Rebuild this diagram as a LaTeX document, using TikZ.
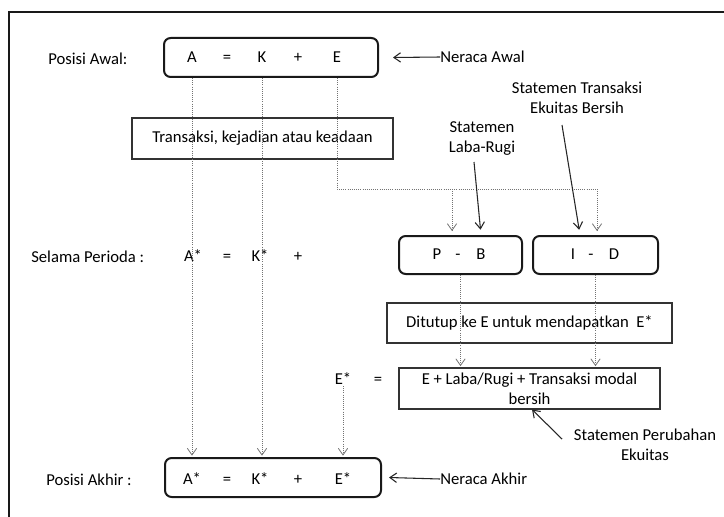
\documentclass[tikz,border=0pt]{standalone}
\usepackage{fontspec}
\setmainfont{Carlito}
\usetikzlibrary{arrows.meta,fit,calc}
\begin{document}
\begin{tikzpicture}[x=0.75pt,y=-0.75pt,
  every node/.style={font=\fontsize{12.5}{15}\selectfont, text=black, inner sep=0pt},
  tok/.style={text height=1.55ex, text depth=0.25ex},
  rbox/.style={draw=black!90, line width=1.5pt, rounded corners=5pt, inner sep=0pt},
  pbox/.style={draw=black!80, line width=0.8pt, inner sep=0pt},
  dotarr/.style={draw=black!55, densely dotted, line width=0.6pt, -{Straight Barb[length=5pt,width=7pt]}, shorten >=3pt},
  dotline/.style={draw=black!55, densely dotted, line width=0.6pt},
  solarr/.style={draw=black!85, line width=0.8pt, -{Straight Barb[length=5pt,width=7pt]}},
  lab/.style={align=center}
]
\useasboundingbox (0,0) rectangle (724,517);
\fill[white] (0,0) rectangle (724,517);
% frame
\coordinate (fr1) at (9,517);
\coordinate (fr2) at (9,12);
\coordinate (fr3) at (724,12);
\draw[line width=1.3pt, black!90] (fr1) -- (fr2) -- (fr3);

% top row
\node[anchor=west] (pawal) at (48,59) {Posisi Awal:};
\node[rbox, fit={(164,38)(378,77)}] (top) {};
\node[tok] (A) at (192,58) {A};
\node[tok] (eq1) at (227,58) {=};
\node[tok] (K) at (262,58) {K};
\node[tok] (pl1) at (298,58) {+};
\node[tok] (E) at (337,58) {E};
\node[anchor=west] (nawal) at (440,57) {Neraca Awal};
\draw[solarr] (nawal.west) -- ($(top.east)+(14,0)$);

% transaksi box
\node[pbox, fit={(132,118)(393,159)}] (trans) {};
\node at (trans.center) {Transaksi, kejadian atau keadaan};

% statements labels
\node[lab] (stE) at (577,98) {Statemen Transaksi\\Ekuitas Bersih};
\node[lab] (stLR) at (482,139) {Statemen\\Laba-Rugi};

% middle row
\node[anchor=west] (selama) at (31,257) {Selama Perioda :};
\node[tok] (As) at (193,257) {A*};
\node[tok] (eq2) at (227,257) {=};
\node[tok] (Ks) at (260,257) {K*};
\node[tok] (pl2) at (298,257) {+};
\node[rbox, fit={(399,236)(522,274)}] (PB) {};
\node[rbox, fit={(533,236)(658,274)}] (ID) {};
\node[tok] (P) at (437,255) {P};
\node[tok] (m1) at (458,255) {-};
\node[tok] (B) at (481,255) {B};
\node[tok] (I) at (573,255) {I};
\node[tok] (m2) at (591,255) {-};
\node[tok] (D) at (614,255) {D};

% ditutup
\node[pbox, fit={(387,303)(672,343)}] (dit) {};
\node at (dit.center) {Ditutup ke E untuk mendapatkan\ \ E*};

% E* row
\node[tok] (Es) at (343,380) {E*};
\node[tok] (eq3) at (378,380) {=};
\node[pbox, fit={(399,368)(660,409)}] (EL) {};
\node[lab] at (EL.center) {E + Laba/Rugi + Transaksi modal\\bersih};
\node[lab] (stPE) at (645,445) {Statemen Perubahan\\Ekuitas};

% bottom row
\node[anchor=west] (pakhir) at (46,480) {Posisi Akhir :};
\node[rbox, fit={(165,458)(381,497)}] (bot) {};
\node[tok] (Ab) at (192,480) {A*};
\node[tok] (eq4) at (227,480) {=};
\node[tok] (Kb) at (260,480) {K*};
\node[tok] (pl3) at (298,480) {+};
\node[tok] (Eb) at (343,480) {E*};
\node[anchor=west] (nakhir) at (440,479) {Neraca Akhir};
\draw[solarr] (nakhir.west) -- ($(bot.east)+(7,0)$);

% dotted vertical connectors
\draw[dotarr, shorten >=1pt] (A |- top.south) -- (A |- bot.north);
\draw[dotarr, shorten >=1pt] (K |- top.south) -- (K |- bot.north);
\coordinate (ej) at (337,189);
\coordinate (ejl) at (452,189);
\coordinate (ejr) at (597,189);
\draw[dotline] (E |- top.south) -- (ej) -- (ejr);
\draw[dotarr] (ejl) -- (ejl |- PB.north);
\draw[dotarr] (ejr) -- (ejr |- ID.north);
\draw[dotarr, shorten >=1pt] (PB.south) -- (PB.south |- EL.north);
\draw[dotarr, shorten >=1pt] (ID.south) -- (ID.south |- EL.north);
\draw[dotarr, shorten >=1pt] (Es.south) -- (Es.south |- bot.north);

% solid statement arrows
\coordinate (lrs) at (474,162);
\draw[solarr, shorten >=4pt] (lrs) -- ([xshift=15.4pt]PB.north);
\coordinate (tes) at (562,125);
\draw[solarr, shorten >=4pt] (tes) -- ([xshift=-11.6pt]ID.north);
\coordinate (pes) at (562,439);
\draw[solarr] (pes) -- ([xshift=1.9pt]EL.south);
\end{tikzpicture}
\end{document}
